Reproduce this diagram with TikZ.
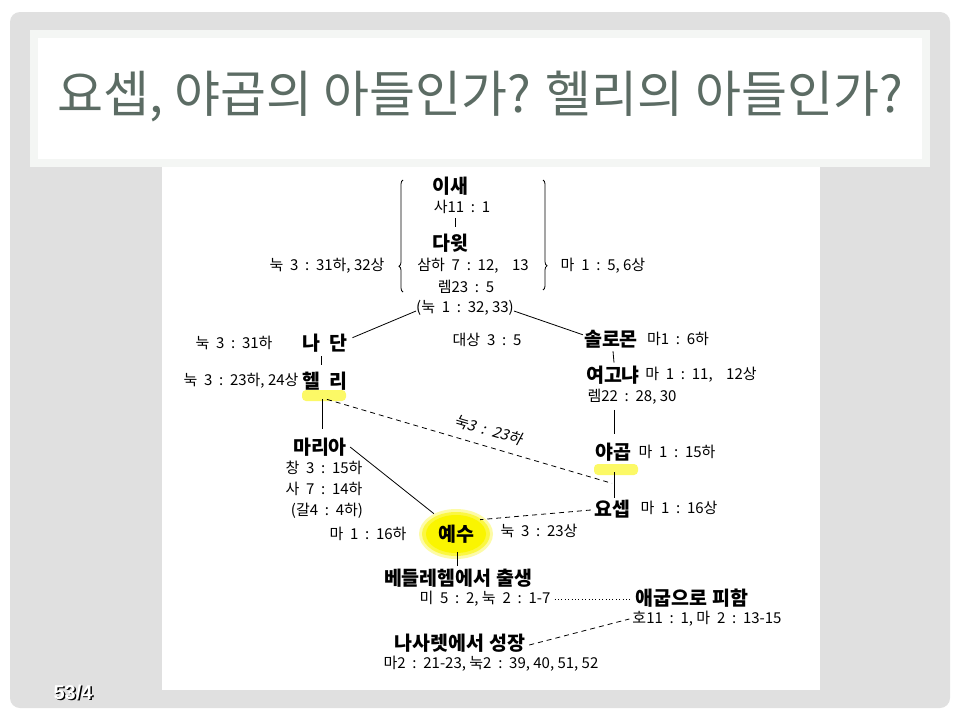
\documentclass[tikz,border=0pt]{standalone}
\usepackage{fontspec}
\setmainfont{Noto Sans CJK KR}
\newfontfamily\slfont[FakeSlant=0.2]{Noto Sans CJK KR}
\newfontfamily\pgfont{Liberation Sans}
\usetikzlibrary{decorations.pathreplacing,calc}
\definecolor{titlecol}{RGB}{92,108,100}
\definecolor{framegray}{RGB}{224,224,224}
\definecolor{titlebg}{RGB}{244,246,244}
\definecolor{hl}{RGB}{250,245,0}
\newcommand{\gap}{\hspace{0.45em}}
\begin{document}
\begin{tikzpicture}[x=1pt,y=-1pt,
  nm/.style={font=\fontsize{19.5}{20}\selectfont\bfseries,inner sep=1pt},
  rf/.style={font=\fontsize{15}{16}\selectfont,inner sep=1pt},
  ln/.style={draw=black,line width=0.8pt},
  dsh/.style={ln,dash pattern=on 5pt off 4pt},
  dtt/.style={ln,dash pattern=on 0.8pt off 2.6pt},
  brc/.style={ln,decorate}]
\useasboundingbox (0,0) rectangle (960,720);
\fill[white] (0,0) rectangle (960,720);
\fill[framegray,rounded corners=10pt] (10,12) rectangle (950,708);
\fill[titlebg] (30,30) rectangle (930,167);
\fill[white] (38,38) rectangle (922,159);
\node[font=\fontsize{50}{52}\selectfont,text=titlecol,inner sep=0pt] (title) at (480,97) {요셉, 야곱의 아들인가? 헬리의 아들인가?};
\fill[white] (162,167) rectangle (820,690);

% highlights
\coordinate (yesuc) at (456,534);
\fill[hl,opacity=0.35] (yesuc) ellipse (37 and 25);
\fill[hl,opacity=0.6] (yesuc) ellipse (34 and 22);
\fill[hl] (yesuc) ellipse (30 and 19);
\fill[hl,opacity=0.6,rounded corners=4pt] (302,390) rectangle (346,401);
\fill[hl,opacity=0.6,rounded corners=4pt] (594,464) rectangle (638,475);

% top
\node[nm] (isae) at (450,186) {이새};
\node[rf] (r1) at (462,207) {사11\gap:\gap1};
\node[nm] (davit) at (450,243) {다윗};
\node[rf] (r2) at (473,266) {삼하\gap7\gap:\gap12,\gap\gap13};
\node[rf] (r3) at (466,287) {렘23\gap:\gap5};
\node[rf] (r4) at (465,308) {(눅\gap1\gap:\gap32, 33)};
\node[rf] (lref) at (327,266) {눅\gap3\gap:\gap31하, 32상};
\node[rf] (rref) at (603,266) {마\gap1\gap:\gap5, 6상};
\coordinate (lbA) at (403,292);
\coordinate (lbB) at (403,180);
\coordinate (rbA) at (543,180);
\coordinate (rbB) at (543,290);
\draw[brc,decoration={brace,amplitude=4pt,aspect=0.23}] (lbA) -- (lbB);
\draw[brc,decoration={brace,amplitude=4pt,aspect=0.78}] (rbA) -- (rbB);
\draw[ln] ($(r1.south)+(-7,3)$) -- ($(r1.south)+(-7,12)$);

% middle
\node[rf] (r5) at (234,343) {눅\gap3\gap:\gap31하};
\node[nm] (nathan) at (325,343) {나\gap 단};
\node[rf] (r6) at (487,340) {대상\gap3\gap:\gap5};
\node[nm] (solomon) at (611,339) {솔로몬};
\node[rf] (r7) at (678,339) {마1\gap:\gap6하};
\node[rf] (r8) at (241,381) {눅\gap3\gap:\gap23하, 24상};
\node[nm] (heli) at (325,381) {헬\gap 리};
\node[nm] (yeog) at (613,375) {여고냐};
\node[rf] (r9) at (701,375) {마\gap1\gap:\gap11,\gap\gap12상};
\node[rf] (r10) at (632,397) {렘22\gap:\gap28, 30};
\node[nm] (yakob) at (613,452) {야곱};
\node[rf] (r11) at (677,452) {마\gap1\gap:\gap15하};
\node[nm] (yosep) at (612,509) {요셉};
\node[rf] (r12) at (679,508) {마\gap1\gap:\gap16상};
\node[rf] (r13) at (539,531) {눅\gap3\gap:\gap23상};
\node[nm] (maria) at (320,447) {마리아};
\node[rf] (r14) at (324,468) {창\gap3\gap:\gap15하};
\node[rf] (r15) at (324,489) {사\gap7\gap:\gap14하};
\node[rf] (r16) at (327,511) {(갈4\gap:\gap4하)};
\node[rf] (r17) at (368,534) {마\gap1\gap:\gap16하};
\node[nm] (yesu) at (yesuc) {예수};

% bottom
\node[nm] (beth) at (458,578) {베들레헴에서 출생};
\node[rf] (r18) at (485,599) {미\gap5\gap:\gap2, 눅\gap2\gap:\gap1-7};
\node[nm] (egypt) at (692,598) {애굽으로 피함};
\node[rf] (r19) at (707,619) {호11\gap:\gap1, 마\gap2\gap:\gap13-15};
\node[nm] (naz) at (460,643) {나사렛에서 성장};
\node[rf] (r20) at (491,664) {마2\gap:\gap21-23, 눅2\gap:\gap39, 40, 51, 52};

% connectors
\draw[ln] ($(r4.west)+(1,3)$) -- ($(nathan.north east)+(4,5)$);
\draw[ln] ($(r4.east)+(-1,3)$) -- ($(solomon.north west)+(0,6)$);
\draw[ln] ($(nathan.south)+(-4,3)$) -- ($(heli.north)+(-4,-6)$);
\draw[ln] ($(heli.south)+(-3,8)$) -- ($(maria.north)+(2,-8)$);
\draw[dsh] ($(heli.south)+(2,8)$) -- node[sloped,above=8pt,pos=0.55,rf,font=\fontsize{15}{16}\selectfont\slfont] (lk) {눅3\gap:\gap23하} ($(yakob.south)+(-1,21)$);
\draw[ln] ($(solomon.south)+(2,2)$) -- ($(yeog.north)+(1,-2)$);
\draw[ln] ($(r10.south)+(-18,4)$) -- ($(yakob.north)+(1,-8)$);
\draw[ln] ($(yakob.south)+(1,10)$) -- ($(yosep.north)+(2,-1)$);
\draw[ln] ($(maria.east)+(2,0)$) -- ($(yesu.north west)+(-3,-10)$);
\draw[dsh] ($(yosep.west)+(-2,1)$) -- ($(yesu.north east)+(5,-4)$);
\draw[ln] ($(yesu.south)+(1,8)$) -- ($(beth.north)+(-1,-2)$);
\draw[dtt] ($(r18.east)+(3,0)$) -- ($(egypt.west)+(-2,1)$);
\draw[dsh] ($(naz.east)+(3,2)$) -- ($(r19.west)+(-2,0)$);

% page number
\node[font=\fontsize{20}{22}\selectfont\pgfont\bfseries,text=black] (pgs) at (74.5,693.5) {53/4};
\node[font=\fontsize{20}{22}\selectfont\pgfont\bfseries,text=white] (pg) at (73,692) {53/4};
\end{tikzpicture}
\end{document}
